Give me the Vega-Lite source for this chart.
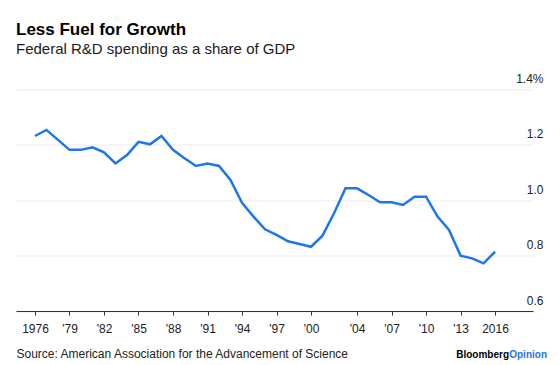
{
  "$schema": "https://vega.github.io/schema/vega-lite/v6.json",
  "width": 517,
  "height": 221.5,
  "autosize": {"type": "none"},
  "padding": {"left": 16, "top": 89.5, "right": 27, "bottom": 54},
  "background": "white",
  "title": {
    "text": "Less Fuel for Growth",
    "subtitle": "Federal R&D spending as a share of GDP",
    "anchor": "start",
    "frame": "group",
    "font": "Liberation Sans",
    "fontSize": 17,
    "fontWeight": "bold",
    "color": "#000000",
    "subtitleFont": "Liberation Sans",
    "subtitleFontSize": 15,
    "subtitleColor": "#1a1a1a",
    "subtitlePadding": 3,
    "offset": 15
  },
  "config": {
    "view": {"stroke": null},
    "font": "Liberation Sans",
    "axis": {"labelOverlap": false}
  },
  "layer": [
    {
      "data": {
        "values": [
          {"year": 1976, "share": 1.232},
          {"year": 1977, "share": 1.254},
          {"year": 1978, "share": 1.218},
          {"year": 1979, "share": 1.182},
          {"year": 1980, "share": 1.182},
          {"year": 1981, "share": 1.191},
          {"year": 1982, "share": 1.173},
          {"year": 1983, "share": 1.133},
          {"year": 1984, "share": 1.163},
          {"year": 1985, "share": 1.211},
          {"year": 1986, "share": 1.202},
          {"year": 1987, "share": 1.232},
          {"year": 1988, "share": 1.182},
          {"year": 1989, "share": 1.152},
          {"year": 1990, "share": 1.124},
          {"year": 1991, "share": 1.133},
          {"year": 1992, "share": 1.124},
          {"year": 1993, "share": 1.073},
          {"year": 1994, "share": 0.991},
          {"year": 1995, "share": 0.941},
          {"year": 1996, "share": 0.895},
          {"year": 1997, "share": 0.875},
          {"year": 1998, "share": 0.852},
          {"year": 1999, "share": 0.842},
          {"year": 2000, "share": 0.832},
          {"year": 2001, "share": 0.872},
          {"year": 2002, "share": 0.953},
          {"year": 2003, "share": 1.043},
          {"year": 2004, "share": 1.043},
          {"year": 2005, "share": 1.019},
          {"year": 2006, "share": 0.993},
          {"year": 2007, "share": 0.993},
          {"year": 2008, "share": 0.983},
          {"year": 2009, "share": 1.013},
          {"year": 2010, "share": 1.013},
          {"year": 2011, "share": 0.941},
          {"year": 2012, "share": 0.893},
          {"year": 2013, "share": 0.800},
          {"year": 2014, "share": 0.790},
          {"year": 2015, "share": 0.772},
          {"year": 2016, "share": 0.814}
        ]
      },
      "mark": {"type": "line", "color": "#1f75ea", "strokeWidth": 2.5, "strokeJoin": "miter"},
      "encoding": {
        "x": {
          "field": "year",
          "type": "quantitative",
          "scale": {"domain": [1974.35, 2019.3], "nice": false, "zero": false},
          "axis": {
            "values": [1976, 1979, 1982, 1985, 1988, 1991, 1994, 1997, 2000, 2004, 2007, 2010, 2013, 2016],
            "tickCount": 40,
            "format": "d",
            "labelExpr": "(datum.value == 1976 || datum.value == 2016) ? datum.label : \"'\" + slice(datum.label, 2)",
            "grid": false,
            "domainColor": "#333333",
            "domainWidth": 1,
            "tickColor": "#333333",
            "tickSize": 4,
            "labelFont": "Liberation Sans",
            "labelFontSize": 12,
            "labelColor": "#222222",
            "labelPadding": 8,
            "labelFlush": false,
            "labelOverlap": false,
            "zindex": 1,
            "title": "Source: American Association for the Advancement of Science",
            "titleFont": "Liberation Sans",
            "titleFontSize": 12,
            "titleFontWeight": "normal",
            "titleColor": "#222222",
            "titleAlign": "left",
            "titleAnchor": "start",
            "titleBaseline": "alphabetic",
            "titleX": 0,
            "titleY": 46
          }
        },
        "y": {
          "field": "share",
          "type": "quantitative",
          "scale": {"domain": [0.6, 1.4], "nice": false, "zero": false},
          "axis": {
            "orient": "right",
            "values": [0.6, 0.8, 1.0, 1.2, 1.4],
            "tickCount": 10,
            "labelExpr": "datum.value >= 1.39 ? '1.4%' : format(datum.value, '.1f')",
            "grid": true,
            "gridColor": "#ebebeb",
            "gridWidth": 1,
            "domain": false,
            "ticks": false,
            "labelAlign": "right",
            "labelBaseline": "alphabetic",
            "labelOffset": -7,
            "labelPadding": 10,
            "labelFont": "Liberation Sans",
            "labelFontSize": 12,
            "labelColor": "#222222",
            "title": null
          }
        }
      }
    },
    {
      "data": {"values": [{"brand": "Bloomberg"}]},
      "mark": {"type": "text", "align": "right", "baseline": "alphabetic", "dx": -24, "dy": 47, "font": "Liberation Sans", "fontWeight": "bold", "fontSize": 10, "color": "#000000"},
      "encoding": {
        "x": {"datum": 2019.3, "type": "quantitative"},
        "y": {"datum": 0.6, "type": "quantitative"},
        "text": {"field": "brand"}
      }
    },
    {
      "data": {"values": [{"brand": "Opinion"}]},
      "mark": {"type": "text", "align": "right", "baseline": "alphabetic", "dx": 14, "dy": 47, "font": "Liberation Sans", "fontWeight": "bold", "fontSize": 10, "color": "#1f75ea"},
      "encoding": {
        "x": {"datum": 2019.3, "type": "quantitative"},
        "y": {"datum": 0.6, "type": "quantitative"},
        "text": {"field": "brand"}
      }
    }
  ]
}
